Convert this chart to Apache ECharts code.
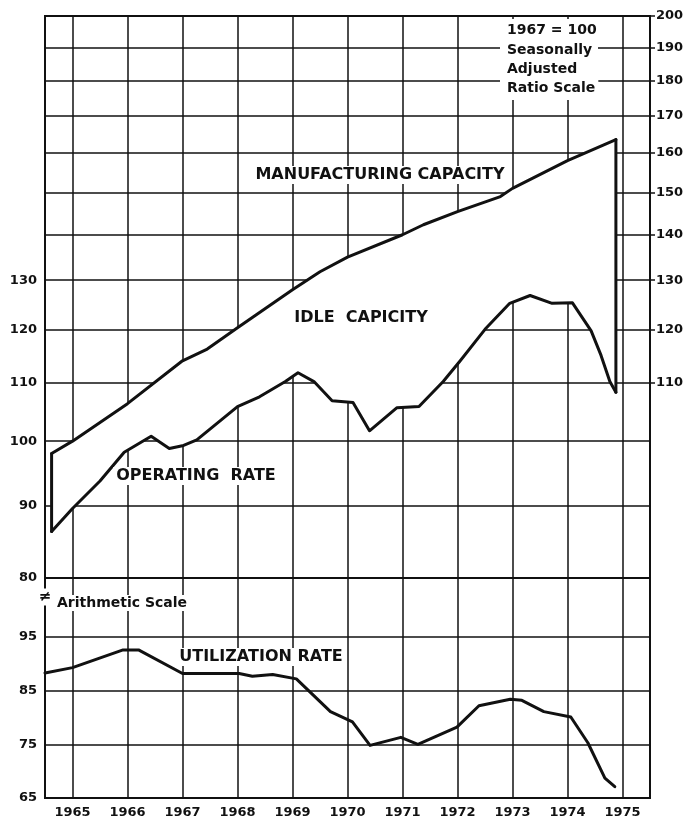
<!DOCTYPE html>
<html>
<head>
<meta charset="utf-8">
<style>
  html, body { margin: 0; padding: 0; background: #fff; }
  #chart { width: 689px; height: 820px; }
</style>
<script src="https://cdn.jsdelivr.net/npm/echarts@6/dist/echarts.min.js"></script>
</head>
<body>
<div id="chart"></div>
<script>
// axis ticks / labels
var years = [1965, 1966, 1967, 1968, 1969, 1970, 1971, 1972, 1973, 1974, 1975];
var ratioTicks = [80, 90, 100, 110, 120, 130, 140, 150, 160, 170, 180, 190, 200];
var ratioLeftLabels = [80, 90, 100, 110, 120, 130];
var ratioRightLabels = [110, 120, 130, 140, 150, 160, 170, 180, 190, 200];
var arithTicks = [65, 75, 85, 95];
var arithLabels = [65, 75, 85, 95];

// manufacturing capacity (1967 = 100, ratio scale)
var capYears = [1964.62, 1965.0, 1966.0, 1967.0, 1967.45, 1968.0, 1969.0, 1969.5, 1970.0, 1971.0, 1971.38, 1972.0, 1972.78, 1973.0, 1974.0, 1974.88];
var capacity = [98, 100, 106.3, 114, 116.2, 120.3, 128, 131.8, 135, 140, 142.3, 145.4, 149, 151, 158, 163.5];

// operating rate (ratio scale)
var opYears = [1964.62, 1965.0, 1965.5, 1965.94, 1966.43, 1966.76, 1967.02, 1967.26, 1968.0, 1968.4, 1968.87, 1969.1, 1969.39, 1969.72, 1970.1, 1970.4, 1970.9, 1971.3, 1971.74, 1972.05, 1972.5, 1972.95, 1973.32, 1973.72, 1974.09, 1974.43, 1974.61, 1974.77, 1974.88];
var operating = [86.3, 89.6, 93.7, 98.2, 100.8, 98.8, 99.3, 100.2, 105.8, 107.5, 110.2, 111.8, 110.2, 106.8, 106.5, 101.7, 105.6, 105.8, 110.2, 114, 120, 125.2, 126.8, 125.2, 125.3, 119.7, 115, 110.2, 108.3];

// utilization rate (percent, arithmetic scale)
var utilYears = [1964.5, 1965.0, 1965.92, 1966.2, 1967.0, 1968.03, 1968.27, 1968.64, 1969.07, 1969.69, 1970.09, 1970.41, 1970.97, 1971.28, 1971.99, 1972.39, 1972.96, 1973.17, 1973.57, 1974.06, 1974.37, 1974.68, 1974.86];
var utilization = [88.3, 89.3, 92.6, 92.6, 88.2, 88.2, 87.7, 88.0, 87.2, 81.1, 79.2, 74.8, 76.3, 75.0, 78.2, 82.2, 83.4, 83.2, 81.1, 80.1, 75.3, 68.7, 67.1];

var font = 'DejaVu Sans';
var ink = '#111';

//x,y 数组合并成点
function pairs(xs, ys) {
    var out = [];
    for (var i = 0; i < xs.length; i++) {
        out.push([xs[i], ys[i]]);
    }
    return out;
}

function plainNum(v) {
    return String(v);
}

//合并对象
function extend(target, src) {
    for (var k in src) {
        if (Object.prototype.hasOwnProperty.call(src, k)) target[k] = src[k];
    }
    return target;
}

var labelStyle = { color: ink, fontFamily: font, fontWeight: 'bold', fontSize: 13 };
var gridLine = { show: true, lineStyle: { color: ink, width: 1.5 } };
var thick = { color: ink, width: 3, cap: 'round', join: 'round' };

function xAxisFor(gridIndex, showLabels) {
    return {
        type: 'value', gridIndex: gridIndex, min: 1964.5, max: 1975.5,
        axisLine: { show: false },
        axisTick: { show: false, customValues: years },
        axisLabel: extend({ show: showLabels, customValues: years, margin: 8, formatter: plainNum }, labelStyle),
        splitLine: gridLine
    };
}

function note(text, x, y, size, align) {
    return {
        type: 'text', x: x, y: y, z: 100,
        style: {
            text: text, fill: ink, font: 'bold ' + size + 'px "' + font + '"',
            align: align || 'center', verticalAlign: 'middle',
            backgroundColor: '#fff', padding: [1, 3]
        }
    };
}

var option = {
    backgroundColor: '#fff',
    animation: false,
    grid: [
        { left: 45, right: 39, top: 16, height: 562, show: true, borderColor: ink, borderWidth: 2 },
        { left: 45, right: 39, top: 578, height: 220, show: true, borderColor: ink, borderWidth: 2 }
    ],
    xAxis: [xAxisFor(0, false), xAxisFor(1, true)],
    yAxis: [
        {
            type: 'log', logBase: 10, gridIndex: 0, min: 80, max: 200, position: 'left',
            axisLine: { show: false },
            axisTick: { show: false, customValues: ratioTicks },
            axisLabel: extend({ customValues: ratioLeftLabels, margin: 8, formatter: plainNum }, labelStyle),
            splitLine: gridLine
        },
        {
            type: 'log', logBase: 10, gridIndex: 0, min: 80, max: 200, position: 'right',
            axisLine: { show: false },
            axisTick: { show: true, inside: false, length: 5, customValues: ratioRightLabels, lineStyle: { color: ink, width: 1.5 } },
            axisLabel: extend({ customValues: ratioRightLabels, margin: 6, formatter: plainNum }, labelStyle),
            splitLine: { show: false }
        },
        {
            type: 'value', gridIndex: 1, min: 65, max: 106, position: 'left',
            axisLine: { show: false },
            axisTick: { show: false, customValues: arithTicks },
            axisLabel: extend({ customValues: arithLabels, margin: 8, formatter: plainNum }, labelStyle),
            splitLine: gridLine
        }
    ],
    series: [
        {
            // white band between capacity and operating rate (idle capacity)
            type: 'custom', xAxisIndex: 0, yAxisIndex: 0, z: 2,
            data: pairs(capYears, capacity),
            encode: { x: 0, y: 1 },
            renderItem: function (params, api) {
                if (params.dataIndex !== 0) return null;
                var pts = [];
                for (var i = 0; i < capYears.length; i++) pts.push(api.coord([capYears[i], capacity[i]]));
                for (var j = opYears.length - 1; j >= 0; j--) pts.push(api.coord([opYears[j], operating[j]]));
                return { type: 'polygon', shape: { points: pts }, style: { fill: '#fff' } };
            }
        },
        {
            name: 'Manufacturing capacity', type: 'line', xAxisIndex: 0, yAxisIndex: 0, z: 3,
            data: pairs(capYears, capacity), showSymbol: false, lineStyle: thick
        },
        {
            name: 'Operating rate', type: 'line', xAxisIndex: 0, yAxisIndex: 0, z: 3,
            data: pairs(opYears, operating), showSymbol: false, lineStyle: thick
        },
        {
            name: 'left edge', type: 'line', xAxisIndex: 0, yAxisIndex: 0, z: 3,
            data: [[capYears[0], capacity[0]], [opYears[0], operating[0]]], showSymbol: false, lineStyle: thick
        },
        {
            name: 'right edge', type: 'line', xAxisIndex: 0, yAxisIndex: 0, z: 3,
            data: [[capYears[capYears.length - 1], capacity[capacity.length - 1]], [opYears[opYears.length - 1], operating[operating.length - 1]]],
            showSymbol: false, lineStyle: thick
        },
        {
            name: 'Utilization rate', type: 'line', xAxisIndex: 1, yAxisIndex: 2, z: 3,
            data: pairs(utilYears, utilization), showSymbol: false, lineStyle: thick
        }
    ],
    graphic: [
        note('MANUFACTURING CAPACITY', 380, 175, 16),
        note('IDLE  CAPICITY', 361, 318, 16),
        note('OPERATING  RATE', 196, 476, 16),
        note('UTILIZATION RATE', 261, 657, 16),
        note('Arithmetic Scale', 54, 603, 14, 'left'),
        note('\u2260', 45, 597, 15),
        {
            type: 'rect', z: 99,
            shape: { x: 500, y: 19, width: 98, height: 81 },
            style: { fill: '#fff' }
        },
        note('1967 = 100', 504, 30, 14, 'left'),
        note('Seasonally', 504, 50, 14, 'left'),
        note('Adjusted', 504, 69, 14, 'left'),
        note('Ratio Scale', 504, 88, 14, 'left')
    ]
};

var chart = echarts.init(document.getElementById('chart'));
chart.setOption(option);
</script>
</body>
</html>
